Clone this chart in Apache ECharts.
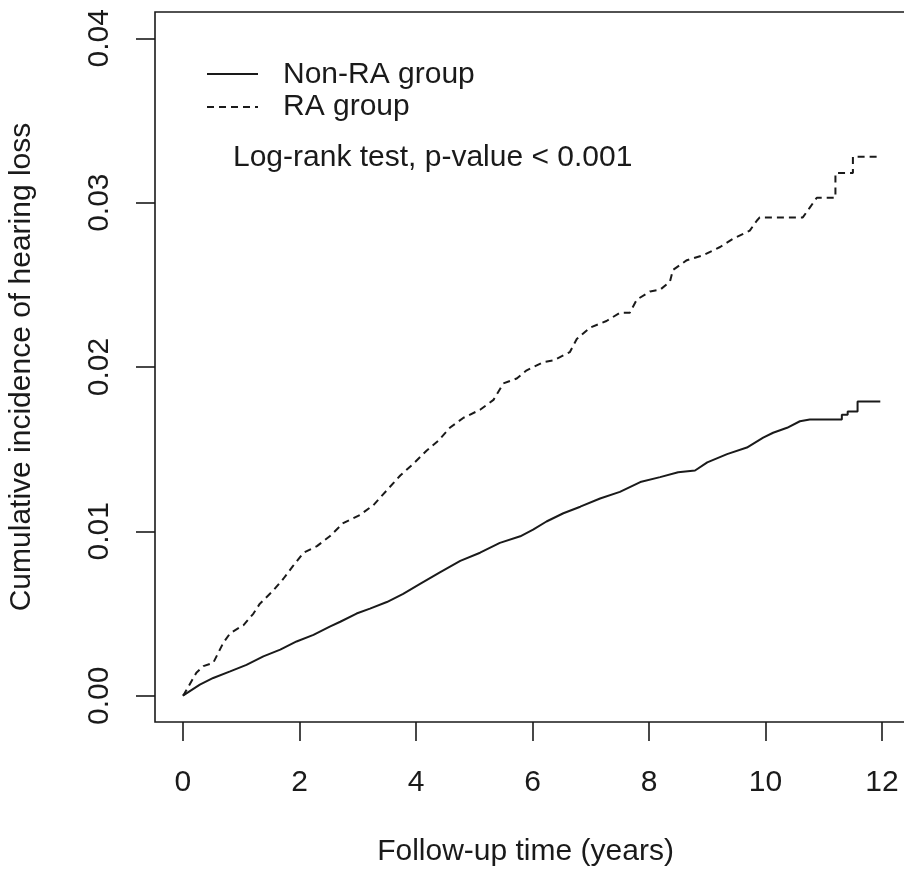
<!DOCTYPE html>
<html>
<head>
<meta charset="utf-8">
<script src="https://cdn.jsdelivr.net/npm/echarts@6/dist/echarts.min.js"></script>
<style>
html,body{margin:0;padding:0;background:#fff;}
#chart{width:904px;height:874px;}
</style>
</head>
<body>
<div id="chart"></div>
<script>
// ---- data (step corners included where steps are visible) ----
const seriesNames = ['Non-RA group', 'RA group'];

const nonRaTime = [0, 0.29, 0.52, 0.81, 1.09, 1.38, 1.67, 1.95, 2.24, 2.52, 2.70, 2.98, 3.21, 3.50, 3.78, 4.07, 4.41, 4.76, 5.10, 5.44, 5.79, 6.01, 6.24, 6.53, 6.82, 7.16, 7.50, 7.85, 8.19, 8.50, 8.79, 9.00, 9.34, 9.68, 9.96, 10.13, 10.37, 10.59, 10.76, 11.31, 11.31, 11.41, 11.41, 11.58, 11.58, 11.97];
const nonRaValue = [0, 0.00067, 0.00108, 0.00148, 0.00188, 0.00239, 0.0028, 0.0033, 0.0037, 0.0042, 0.0045, 0.0050, 0.0053, 0.0057, 0.0062, 0.0068, 0.0075, 0.0082, 0.0087, 0.0093, 0.0097, 0.0101, 0.0106, 0.0111, 0.0115, 0.0120, 0.0124, 0.0130, 0.0133, 0.0136, 0.0137, 0.0142, 0.0147, 0.0151, 0.0157, 0.0160, 0.0163, 0.0167, 0.0168, 0.0168, 0.0171, 0.0171, 0.0173, 0.0173, 0.0179, 0.0179];

const raTime = [0, 0.03, 0.23, 0.35, 0.52, 0.69, 0.81, 1.04, 1.21, 1.32, 1.55, 1.72, 1.89, 2.07, 2.30, 2.52, 2.75, 3.04, 3.27, 3.50, 3.73, 3.95, 4.18, 4.38, 4.58, 4.81, 5.10, 5.33, 5.50, 5.73, 5.90, 6.19, 6.36, 6.64, 6.76, 6.99, 7.27, 7.50, 7.67, 7.79, 8.02, 8.19, 8.36, 8.41, 8.65, 8.93, 9.22, 9.44, 9.73, 9.85, 9.90, 10.64, 10.76, 10.88, 11.20, 11.20, 11.50, 11.50, 11.97];
const raValue = [0, 0.00016, 0.0014, 0.0018, 0.0020, 0.0032, 0.0038, 0.0043, 0.0050, 0.0056, 0.0064, 0.0071, 0.0079, 0.0087, 0.0091, 0.0097, 0.0105, 0.0110, 0.0116, 0.0125, 0.0134, 0.0141, 0.0149, 0.0155, 0.0163, 0.0169, 0.0174, 0.0180, 0.0190, 0.0193, 0.0198, 0.0203, 0.0204, 0.0209, 0.0217, 0.0224, 0.0228, 0.0233, 0.0233, 0.0241, 0.0246, 0.0247, 0.0252, 0.0259, 0.0265, 0.0268, 0.0273, 0.0278, 0.0283, 0.0289, 0.0291, 0.0291, 0.0297, 0.0303, 0.0303, 0.0318, 0.0318, 0.0328, 0.0328];

const xTicks = [0, 2, 4, 6, 8, 10, 12];
const yTicks = [0, 0.01, 0.02, 0.03, 0.04];

const xTitle = 'Follow-up time (years)';
const yTitle = 'Cumulative incidence of hearing loss';
const noteText = 'Log-rank test, p-value < 0.001';

// ---- chart ----
const FONT = '"Liberation Sans", Arial, sans-serif';
const FS = 30;
const INK = '#1a1a1a';

const zip = (a, b) => a.map((v, i) => [v, b[i]]);

const chart = echarts.init(document.getElementById('chart'), null, {renderer: 'canvas'});

const option = {
  backgroundColor: '#ffffff',
  animation: false,
  textStyle: {fontFamily: FONT},
  grid: {
    left: 155, top: 12, width: 755, height: 710,
    show: true, borderColor: INK, borderWidth: 1.6,
    backgroundColor: 'transparent',
    containLabel: false,
    outerBoundsMode: 'none'
  },
  xAxis: {
    type: 'value',
    min: -0.48, max: 12.48,
    name: xTitle,
    nameLocation: 'middle',
    nameGap: 115,
    nameTextStyle: {fontFamily: FONT, fontSize: FS, color: INK, padding: [0, 14, 0, 0]},
    axisLine: {show: false, onZero: false},
    splitLine: {show: false},
    axisTick: {show: true, inside: false, length: 19, customValues: xTicks, lineStyle: {color: INK, width: 1.6}},
    axisLabel: {show: true, customValues: xTicks, margin: 46, fontFamily: FONT, fontSize: FS, color: INK,
      formatter: v => String(v)}
  },
  yAxis: {
    type: 'value',
    min: -0.0016, max: 0.0416,
    name: yTitle,
    nameLocation: 'middle',
    nameGap: 118,
    nameRotate: 90,
    nameTextStyle: {fontFamily: FONT, fontSize: FS, color: INK},
    axisLine: {show: false, onZero: false},
    splitLine: {show: false},
    axisTick: {show: true, inside: false, length: 19, customValues: yTicks, lineStyle: {color: INK, width: 1.6}},
    axisLabel: {show: true, customValues: yTicks, rotate: 90, margin: 40, fontFamily: FONT, fontSize: FS, color: INK,
      formatter: v => Number(v).toFixed(2)}
  },
  series: [
    {
      name: seriesNames[0], type: 'line', showSymbol: false, symbol: 'none',
      data: zip(nonRaTime, nonRaValue),
      lineStyle: {color: INK, width: 2, type: 'solid'},
      emphasis: {disabled: true}
    },
    {
      name: seriesNames[1], type: 'line', showSymbol: false, symbol: 'none',
      data: zip(raTime, raValue),
      lineStyle: {color: INK, width: 2, type: [7, 5]},
      emphasis: {disabled: true}
    }
  ],
  graphic: [
    {type: 'line', shape: {x1: 207, y1: 74, x2: 258, y2: 74}, style: {stroke: INK, lineWidth: 2}},
    {type: 'line', shape: {x1: 207, y1: 107, x2: 258, y2: 107}, style: {stroke: INK, lineWidth: 2, lineDash: [7, 5]}},
    {type: 'text', x: 283, y: 75, style: {text: seriesNames[0], font: FS + 'px ' + FONT, fill: INK, verticalAlign: 'middle', align: 'left'}},
    {type: 'text', x: 283, y: 107, style: {text: seriesNames[1], font: FS + 'px ' + FONT, fill: INK, verticalAlign: 'middle', align: 'left'}},
    {type: 'text', x: 233, y: 158, style: {text: noteText, font: FS + 'px ' + FONT, fill: INK, verticalAlign: 'middle', align: 'left'}}
  ]
};

chart.setOption(option);
</script>
</body>
</html>
